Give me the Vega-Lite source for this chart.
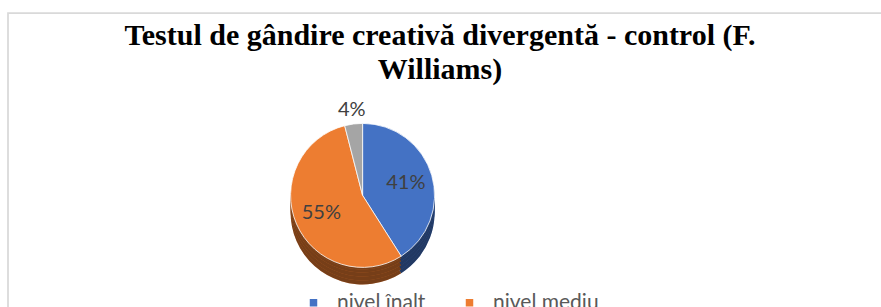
{
  "$schema": "https://vega.github.io/schema/vega-lite/v6.json",
  "autosize": "none",
  "padding": {"left": 8, "top": 13, "right": 0, "bottom": 0},
  "width": 900,
  "height": 320,
  "background": "white",
  "config": {"view": {"stroke": "#d9d9d9", "strokeWidth": 1.75}},
  "title": {
    "text": ["Testul de gândire creativă divergentă - control (F.", "Williams)"],
    "font": "Liberation Serif",
    "fontSize": 30,
    "fontWeight": "bold",
    "color": "#000000",
    "anchor": "middle",
    "frame": "group",
    "lineHeight": 34,
    "offset": -72,
    "dx": -18
  },
  "data": {
    "values": [
      {"nivel": "nivel înalt", "procent": 0.41, "ordine": 1, "grupa": "control"},
      {"nivel": "nivel mediu", "procent": 0.55, "ordine": 2, "grupa": "control"},
      {"nivel": "nivel scăzut", "procent": 0.04, "ordine": 3, "grupa": "control"}
    ]
  },
  "encoding": {
    "theta": {"field": "procent", "type": "quantitative", "stack": true},
    "order": {"field": "ordine", "type": "quantitative"},
    "x": {"field": "grupa", "type": "nominal", "scale": {"type": "point", "align": 0.394}, "axis": null},
    "y": {"field": "grupa", "type": "nominal", "scale": {"type": "point", "align": 0.57}, "axis": null},
    "color": {
      "field": "nivel",
      "type": "nominal",
      "scale": {"domain": ["nivel înalt", "nivel mediu", "nivel scăzut"], "range": ["#4472c4", "#ed7d31", "#a5a5a5"]},
      "legend": {
        "title": null,
        "orient": "none",
        "legendX": 295,
        "legendY": 279,
        "direction": "horizontal",
        "columns": 2,
        "columnPadding": 14,
        "padding": 0,
        "symbolType": "square",
        "symbolSize": 56,
        "symbolStrokeWidth": 0,
        "labelFont": "Lato",
        "labelFontSize": 21,
        "labelColor": "#595959",
        "labelOffset": 13,
        "rowPadding": 40
      }
    }
  },
  "layer": [
    {"mark": {"type": "arc", "radius": 72, "yOffset": 17}},
    {"mark": {"type": "arc", "radius": 72, "yOffset": 17, "opacity": 0.5}, "encoding": {"color": {"value": "#000000"}}},
    {"mark": {"type": "arc", "radius": 72, "yOffset": 13}},
    {"mark": {"type": "arc", "radius": 72, "yOffset": 13, "opacity": 0.5}, "encoding": {"color": {"value": "#000000"}}},
    {"mark": {"type": "arc", "radius": 72, "yOffset": 9}},
    {"mark": {"type": "arc", "radius": 72, "yOffset": 9, "opacity": 0.5}, "encoding": {"color": {"value": "#000000"}}},
    {"mark": {"type": "arc", "radius": 72, "yOffset": 5}},
    {"mark": {"type": "arc", "radius": 72, "yOffset": 5, "opacity": 0.5}, "encoding": {"color": {"value": "#000000"}}},
    {"mark": {"type": "arc", "radius": 72, "yOffset": 2}},
    {"mark": {"type": "arc", "radius": 72, "yOffset": 2, "opacity": 0.5}, "encoding": {"color": {"value": "#000000"}}},
    {"mark": {"type": "arc", "radius": 72, "stroke": "#ffffff", "strokeWidth": 0.8}},
    {
      "mark": {"type": "text", "radius": 45, "font": "Lato", "fontSize": 20},
      "encoding": {
        "text": {"condition": {"test": "datum.procent < 0.1", "value": ""}, "field": "procent", "type": "quantitative", "format": ".0%"},
        "color": {"value": "#404040"}
      }
    },
    {
      "mark": {"type": "text", "radius": 86, "font": "Lato", "fontSize": 20},
      "encoding": {
        "text": {"condition": {"test": "datum.procent >= 0.1", "value": ""}, "field": "procent", "type": "quantitative", "format": ".0%"},
        "color": {"value": "#404040"}
      }
    }
  ]
}
